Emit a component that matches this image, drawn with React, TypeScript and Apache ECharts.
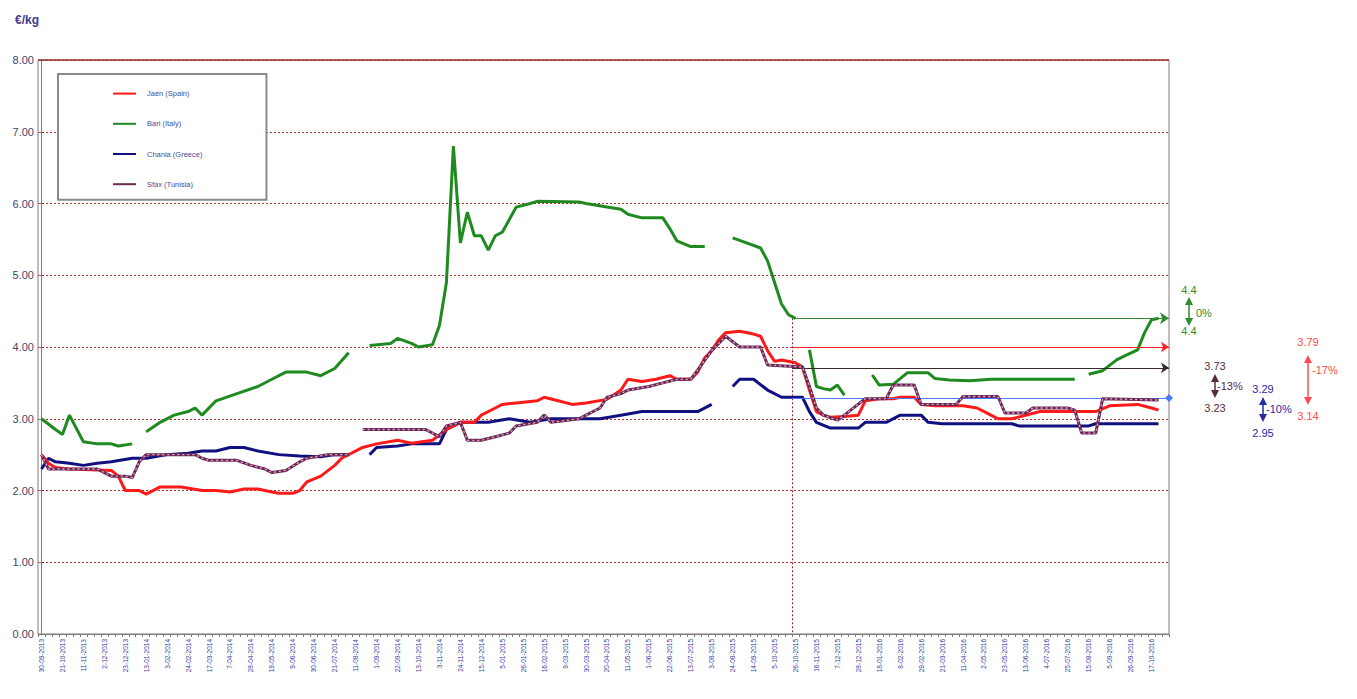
import React, { useEffect, useRef } from "react";
import * as echarts from "echarts";

// x-axis tick labels (every 3rd week)
const tickLabels = [
  "30-09-2013", "21-10-2013", "11-11-2013", "2-12-2013", "23-12-2013", "13-01-2014", "3-02-2014", "24-02-2014",
  "17-03-2014", "7-04-2014", "28-04-2014", "19-05-2014", "9-06-2014", "30-06-2014", "21-07-2014", "11-08-2014",
  "1-09-2014", "22-09-2014", "13-10-2014", "3-11-2014", "24-11-2014", "15-12-2014", "5-01-2015", "26-01-2015",
  "16-02-2015", "9-03-2015", "30-03-2015", "20-04-2015", "11-05-2015", "1-06-2015", "22-06-2015", "13-07-2015",
  "3-08-2015", "24-08-2015", "14-09-2015", "5-10-2015", "26-10-2015", "16-11-2015", "7-12-2015", "28-12-2015",
  "18-01-2016", "8-02-2016", "29-02-2016", "21-03-2016", "11-04-2016", "2-05-2016", "23-05-2016", "13-06-2016",
  "4-07-2016", "25-07-2016", "15-08-2016", "5-09-2016", "26-09-2016", "17-10-2016",
];
const weekCount = 162;

const seriesNames = ["Jaén (Spain)", "Bari (Italy)", "Chania (Greece)", "Sfax (Tunisia)"];

// [week index, €/kg] ; "-" = gap
const jaen: any[] = [
  [0, 2.5], [1, 2.38], [2, 2.32], [4, 2.3], [10, 2.28], [11, 2.2], [12, 2.0], [14, 2.0], [15, 1.95],
  [17, 2.05], [20, 2.05], [23, 2.0], [25, 2.0], [27, 1.98], [29, 2.02], [31, 2.02], [33, 1.98],
  [34, 1.96], [36, 1.96], [37, 2.0], [38, 2.12], [40, 2.2], [42, 2.35], [43, 2.45], [46, 2.6],
  [48, 2.65], [51, 2.7], [53, 2.66], [56, 2.7], [58, 2.85], [60, 2.95], [62, 2.95], [63, 3.05],
  [65, 3.15], [66, 3.2], [68, 3.22], [71, 3.25], [72, 3.3], [74, 3.25], [76, 3.2], [78, 3.22],
  [81, 3.27], [83, 3.4], [84, 3.55], [86, 3.52], [88, 3.55], [90, 3.6], [91, 3.55], [93, 3.55],
  [94, 3.65], [95, 3.85], [96, 3.95], [97, 4.1], [98, 4.2], [100, 4.22], [102, 4.18], [103, 4.15],
  [104, 3.95], [105, 3.8], [106, 3.82], [108, 3.78], [109, 3.72], [110, 3.4], [111, 3.1],
  [112, 3.05], [113, 3.02], [115, 3.03], [117, 3.05], [118, 3.25], [120, 3.28], [122, 3.28],
  [123, 3.3], [125, 3.3], [126, 3.2], [128, 3.18], [132, 3.18], [134, 3.15], [136, 3.05],
  [137, 3.0], [139, 3.0], [143, 3.1], [151, 3.1], [153, 3.18], [157, 3.2], [159, 3.15], [160, 3.12],
];

const bari: any[] = [
  [0, 3.0], [2, 2.85], [3, 2.78], [4, 3.05], [6, 2.68], [8, 2.65], [10, 2.65], [11, 2.62], [13, 2.65], [14, "-"],
  [15, 2.82], [17, 2.95], [19, 3.05], [21, 3.1], [22, 3.15], [23, 3.05], [25, 3.25], [28, 3.35],
  [31, 3.45], [33, 3.55], [35, 3.65], [38, 3.65], [40, 3.6], [42, 3.7], [44, 3.92], [45, "-"],
  [47, 4.02], [50, 4.05], [51, 4.12], [53, 4.05], [54, 4.0], [56, 4.03], [57, 4.3], [58, 4.9],
  [59, 6.8], [60, 5.45], [61, 5.88], [62, 5.55], [63, 5.55], [64, 5.35], [65, 5.55], [66, 5.6],
  [68, 5.95], [70, 6.0], [71, 6.03], [77, 6.02], [78, 6.0], [81, 5.95], [83, 5.92], [84, 5.85],
  [86, 5.8], [89, 5.8], [90, 5.65], [91, 5.48], [93, 5.4], [95, 5.4], [96, "-"],
  [99, 5.52], [101, 5.45], [103, 5.38], [104, 5.2], [105, 4.9], [106, 4.6], [107, 4.45], [108, 4.4], [109, "-"],
  [110, 3.96], [111, 3.45], [112, 3.42], [113, 3.4], [114, 3.47], [115, 3.33], [116, "-"],
  [119, 3.61], [120, 3.47], [122, 3.48], [123, 3.56], [124, 3.64], [127, 3.64], [128, 3.56],
  [130, 3.54], [133, 3.53], [136, 3.55], [148, 3.55], [149, "-"],
  [150, 3.62], [152, 3.67], [154, 3.82], [155, 3.87], [157, 3.96], [158, 4.2], [159, 4.38], [160, 4.4],
];

const chania: any[] = [
  [0, 2.3], [1, 2.45], [2, 2.4], [4, 2.38], [6, 2.35], [8, 2.38], [10, 2.4], [13, 2.45], [15, 2.45],
  [18, 2.5], [21, 2.52], [23, 2.55], [25, 2.55], [27, 2.6], [29, 2.6], [31, 2.55], [34, 2.5],
  [37, 2.48], [40, 2.47], [42, 2.5], [44, 2.5], [45, "-"],
  [47, 2.5], [48, 2.6], [51, 2.62], [53, 2.65], [57, 2.65], [58, 2.85], [60, 2.95], [64, 2.95],
  [67, 3.0], [70, 2.95], [73, 3.0], [80, 3.0], [83, 3.05], [86, 3.1], [94, 3.1], [96, 3.2], [97, "-"],
  [99, 3.45], [100, 3.55], [102, 3.55], [104, 3.4], [106, 3.3], [109, 3.3], [110, 3.1], [111, 2.95],
  [113, 2.87], [117, 2.87], [118, 2.95], [121, 2.95], [123, 3.05], [126, 3.05], [127, 2.95],
  [129, 2.93], [139, 2.93], [140, 2.9], [150, 2.9], [151, 2.93], [160, 2.93],
];

const sfax: any[] = [
  [0, 2.5], [1, 2.3], [8, 2.3], [9, 2.25], [10, 2.2], [12, 2.2], [13, 2.18], [14, 2.4], [15, 2.5],
  [22, 2.5], [23, 2.45], [24, 2.42], [28, 2.42], [30, 2.35], [32, 2.3], [33, 2.25], [35, 2.28],
  [37, 2.4], [38, 2.45], [41, 2.5], [44, 2.5], [45, "-"],
  [46, 2.85], [55, 2.85], [57, 2.75], [58, 2.9], [60, 2.95], [61, 2.7], [63, 2.7], [65, 2.75],
  [67, 2.8], [68, 2.9], [71, 2.95], [72, 3.05], [73, 2.95], [77, 3.0], [78, 3.05], [80, 3.15],
  [81, 3.3], [83, 3.35], [84, 3.4], [87, 3.45], [89, 3.5], [91, 3.55], [93, 3.55], [96, 3.95],
  [98, 4.15], [100, 4.0], [103, 4.0], [104, 3.75], [109, 3.72], [110, 3.45], [111, 3.15],
  [112, 3.05], [114, 2.98], [115, 3.05], [118, 3.28], [121, 3.28], [122, 3.47], [125, 3.47],
  [126, 3.2], [131, 3.2], [132, 3.31], [137, 3.31], [138, 3.08], [141, 3.08], [142, 3.15],
  [147, 3.15], [148, 3.12], [149, 2.8], [151, 2.8], [152, 3.28], [160, 3.26],
];

// reference levels drawn from the start of the 2015/16 campaign
const campaignStartWeek = 107.5;
const refEndWeek = 161.5;
const refBari = 4.4;
const refJaen = 4.0;
const refSfax = 3.71;
const refChania = 3.29;
const yMax = 8;

// right-hand annotations
const annotations = [
  { from: "4.4", to: "4.4", pct: "0%", color: "#2e8b2e" },
  { from: "3.73", to: "3.23", pct: "-13%", color: "#5a2a40" },
  { from: "3.29", to: "2.95", pct: "-10%", color: "#2a2aa8" },
  { from: "3.79", to: "3.14", pct: "-17%", color: "#ff4a4a" },
];

const FONT = "Liberation Sans, Arial, sans-serif";

function refLine(y: number, color: string, symbol: string) {
  return [
    { coord: [campaignStartWeek, y], lineStyle: { color, width: 1, type: "solid" }, symbol: "none" },
    { coord: [refEndWeek, y], symbol },
  ];
}

export default function App() {
  const ref = useRef<HTMLDivElement>(null);
  useEffect(() => {
    if (!ref.current) return;
    const chart = echarts.init(ref.current, null, { renderer: "svg" });
    const categories = Array.from({ length: weekCount }, (_, i) =>
      i % 3 === 0 && tickLabels[i / 3] ? tickLabels[i / 3] : `w${i}`
    );

    const layout = [
      { tx: 1189, top: 290, arrowTop: 299, arrowBot: 324, pctX: 1196, pctY: 313, bot: 331 },
      { tx: 1215, top: 366, arrowTop: 376, arrowBot: 396, pctX: 1217, pctY: 386, bot: 408 },
      { tx: 1263, top: 389, arrowTop: 399, arrowBot: 420, pctX: 1266, pctY: 409, bot: 433 },
      { tx: 1308, top: 342, arrowTop: 357, arrowBot: 403, pctX: 1312, pctY: 370, bot: 416 },
    ];
    const graphics: any[] = [];
    annotations.forEach((a, i) => {
      const l = layout[i];
      const st = { fill: a.color, font: `11px ${FONT}`, textAlign: "center", textVerticalAlign: "middle" };
      graphics.push({ type: "text", x: l.tx, y: l.top, style: { ...st, text: a.from } });
      graphics.push({ type: "text", x: l.tx, y: l.bot, style: { ...st, text: a.to } });
      graphics.push({ type: "text", x: l.pctX, y: l.pctY, style: { ...st, textAlign: "left", text: a.pct } });
      graphics.push({ type: "line", shape: { x1: l.tx, y1: l.arrowTop + 4, x2: l.tx, y2: l.arrowBot - 4 }, style: { stroke: a.color, lineWidth: 1.5 } });
      graphics.push({ type: "polygon", shape: { points: [[l.tx, l.arrowTop - 2], [l.tx - 4, l.arrowTop + 6], [l.tx + 4, l.arrowTop + 6]] }, style: { fill: a.color } });
      graphics.push({ type: "polygon", shape: { points: [[l.tx, l.arrowBot + 2], [l.tx - 4, l.arrowBot - 6], [l.tx + 4, l.arrowBot - 6]] }, style: { fill: a.color } });
    });

    const lineBase = {
      type: "line",
      xAxisIndex: 1,
      symbol: "none",
      connectNulls: false,
      silent: true,
    };

    chart.setOption({
      animation: false,
      textStyle: { fontFamily: FONT },
      title: {
        text: "€/kg",
        left: 10,
        top: 9,
        textStyle: { fontSize: 12, fontWeight: "bold", color: "#3a3a90", fontFamily: FONT },
      },
      legend: {
        data: seriesNames,
        orient: "vertical",
        left: 58,
        top: 74,
        padding: [14, 64, 10, 54],
        itemGap: 19,
        itemWidth: 23,
        itemHeight: 14,
        itemStyle: { opacity: 0 },
        lineStyle: { width: 2 },
        borderColor: "#8a8a8a",
        borderWidth: 2,
        backgroundColor: "#ffffff",
        textStyle: { fontSize: 7.5, color: "#4a4a9a", fontFamily: FONT, padding: [0, 0, 0, 6] },
      },
      grid: {
        left: 38,
        right: 188,
        top: 60,
        bottom: 65,
        show: true,
        borderColor: "#8a7a7a",
        borderWidth: 1,
        backgroundColor: "transparent",
      },
      xAxis: [
        {
          type: "category",
          data: categories,
          boundaryGap: true,
          axisLine: { lineStyle: { color: "#7a7a7a", width: 1 } },
          axisTick: { show: true, interval: 0, length: 3, lineStyle: { color: "#7a7a7a" } },
          axisLabel: {
            interval: 2,
            rotate: 90,
            fontSize: 6.5,
            color: "#3a3aa8",
            margin: 5,
            fontFamily: FONT,
          },
          splitLine: { show: false },
        },
        {
          type: "value",
          show: false,
          min: -0.5,
          max: weekCount - 0.5,
          splitLine: { show: false },
        },
      ],
      yAxis: {
        type: "value",
        min: 0,
        max: yMax,
        interval: 1,
        axisLine: { show: true, lineStyle: { color: "#7a7a7a" } },
        axisTick: { show: true, length: 3, lineStyle: { color: "#7a7a7a" } },
        axisLabel: {
          formatter: (v: number) => v.toFixed(2),
          fontSize: 11,
          color: "#44446a",
          margin: 4,
          fontFamily: FONT,
        },
        splitLine: { show: true, lineStyle: { color: "#b03030", type: [2, 2], width: 1 } },
      },
      graphic: graphics,
      series: [
        {
          ...lineBase,
          name: seriesNames[0],
          data: jaen,
          z: 4,
          lineStyle: { color: "#ff1a1a", width: 3 },
          itemStyle: { color: "#ff1a1a" },
          markLine: {
            silent: true,
            animation: false,
            label: { show: false },
            symbolSize: 8,
            data: [
              refLine(refJaen, "#ff2020", "arrow"),
              [
                { coord: [campaignStartWeek, refBari], lineStyle: { color: "#a02020", width: 1, type: [2, 2] }, symbol: "none" },
                { coord: [campaignStartWeek, 0], symbol: "none" },
              ],
              [
                { coord: [-0.5, yMax], lineStyle: { color: "#a03a3a", width: 1.5, type: "solid" }, symbol: "none" },
                { coord: [weekCount - 0.5, yMax], symbol: "none" },
              ],
            ],
          },
        },
        {
          ...lineBase,
          name: seriesNames[1],
          data: bari,
          z: 3,
          lineStyle: { color: "#1f8a1f", width: 3 },
          itemStyle: { color: "#1f8a1f" },
          markLine: {
            silent: true,
            animation: false,
            label: { show: false },
            symbolSize: 9,
            data: [refLine(refBari, "#2e8b2e", "arrow")],
          },
        },
        {
          ...lineBase,
          name: seriesNames[2],
          data: chania,
          z: 3,
          lineStyle: { color: "#101080", width: 3 },
          itemStyle: { color: "#101080" },
          markLine: {
            silent: true,
            animation: false,
            label: { show: false },
            symbolSize: 8,
            data: [refLine(refChania, "#4a78ff", "diamond")],
          },
        },
        {
          ...lineBase,
          name: seriesNames[3],
          data: sfax,
          z: 5,
          lineStyle: { color: "#6a2a52", width: 3 },
          itemStyle: { color: "#6a2a52" },
          markLine: {
            silent: true,
            animation: false,
            label: { show: false },
            symbolSize: 8,
            data: [refLine(refSfax, "#3a2a2a", "arrow")],
          },
        },
        {
          ...lineBase,
          name: "Sfax markers",
          data: sfax,
          z: 6,
          lineStyle: { color: "#e4a8d4", width: 1.3, type: [2, 3] },
          itemStyle: { color: "#e4a8d4" },
        },
      ],
    });
    return () => chart.dispose();
  }, []);

  return (
    <div
      ref={ref}
      style={{ position: "fixed", left: 0, top: 0, width: 1357, height: 699, background: "#ffffff" }}
    />
  );
}
